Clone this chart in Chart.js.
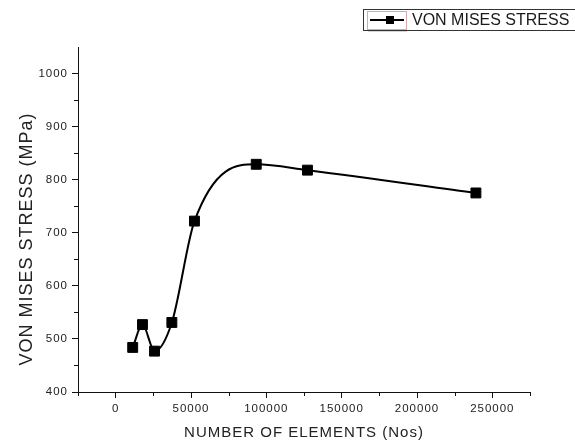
<!DOCTYPE html>
<html>
<head>
<meta charset="utf-8">
<script src="https://cdn.jsdelivr.net/npm/chart.js"></script>
<style>
  html, body { margin: 0; padding: 0; background: #fff; }
</style>
</head>
<body>
<canvas id="myChart" width="575" height="443"></canvas>
<script>
// values
const elements = [11300, 17800, 25800, 37300, 52300, 93300, 127300, 239100];
const stress = [484, 527, 477, 531, 722, 829, 818, 775];
const xTicks = [0, 50000, 100000, 150000, 200000, 250000];
const yTicks = [400, 500, 600, 700, 800, 900, 1000];
const xMinor = [-25000, 25000, 75000, 125000, 175000, 225000, 275000];
const yMinor = [450, 550, 650, 750, 850, 950];
const yTitle = 'VON MISES STRESS (MPa)';

Chart.defaults.font.family = '"Liberation Sans", Arial, sans-serif';

// wider letter spacing for axis text, like the scanned original
const spacing = {
    id: 'spacing',
    beforeDraw(chart) { chart.ctx.letterSpacing = '1px'; },
    beforeDatasetsDraw(chart) { chart.ctx.letterSpacing = '0px'; }
};

// y title sits a bit below the middle of the axis in the original
const sideTitle = {
    id: 'sideTitle',
    afterDraw(chart) {
        const ctx = chart.ctx;
        ctx.save();
        ctx.letterSpacing = '1px';
        ctx.fillStyle = '#222';
        ctx.font = '18px "Liberation Sans", Arial, sans-serif';
        ctx.translate(27, 239);
        ctx.rotate(-Math.PI / 2);
        ctx.textAlign = 'center';
        ctx.textBaseline = 'middle';
        ctx.fillText(yTitle, 0, 0);
        ctx.restore();
    }
};

// small outward ticks between the labelled ones
const minorTicks = {
    id: 'minorTicks',
    afterDraw(chart) {
        const { ctx, scales: { x, y } } = chart;
        ctx.save();
        ctx.strokeStyle = '#111';
        ctx.lineWidth = 1;
        ctx.beginPath();
        xMinor.forEach(v => {
            const px = Math.round(x.getPixelForValue(v)) + 0.5;
            ctx.moveTo(px, y.bottom);
            ctx.lineTo(px, y.bottom + 4);
        });
        yMinor.forEach(v => {
            const py = Math.round(y.getPixelForValue(v)) + 0.5;
            ctx.moveTo(x.left - 4, py);
            ctx.lineTo(x.left, py);
        });
        ctx.stroke();
        ctx.restore();
    }
};

// boxed legend in the top right corner
const boxLegend = {
    id: 'boxLegend',
    afterDraw(chart) {
        const ctx = chart.ctx;
        const ds = chart.data.datasets[0];
        ctx.save();
        ctx.letterSpacing = '0px';
        ctx.lineWidth = 1;
        ctx.strokeStyle = '#333';
        ctx.strokeRect(363.5, 9.5, 212, 21);
        ctx.strokeStyle = '#d9a9a9';
        ctx.strokeRect(367.5, 11.5, 39, 18);
        ctx.strokeStyle = '#a8e6ec';
        ctx.beginPath();
        ctx.moveTo(368, 31.5);
        ctx.lineTo(407, 31.5);
        ctx.stroke();
        ctx.strokeStyle = ds.borderColor;
        ctx.lineWidth = 2;
        ctx.beginPath();
        ctx.moveTo(370, 20);
        ctx.lineTo(404, 20);
        ctx.stroke();
        ctx.fillStyle = ds.backgroundColor;
        ctx.fillRect(386, 16, 8, 8);
        ctx.fillStyle = '#1a1a1a';
        ctx.font = '16px "Liberation Sans", Arial, sans-serif';
        ctx.textBaseline = 'middle';
        ctx.fillText(ds.label, 412, 20.5);
        ctx.restore();
    }
};

const ctx = document.getElementById('myChart').getContext('2d');
const myChart = new Chart(ctx, {
    type: 'line',
    data: {
        datasets: [{
            label: 'VON MISES STRESS',
            data: elements.map((e, i) => ({ x: e, y: stress[i] })),
            borderColor: '#000',
            backgroundColor: '#000',
            borderWidth: 2,
            cubicInterpolationMode: 'monotone',
            pointStyle: 'rect',
            pointRadius: 7,
            pointBorderColor: '#000',
            pointBorderWidth: 1,
            fill: false
        }]
    },
    options: {
        responsive: false,
        animation: false,
        layout: { padding: { top: 47, right: 45, left: 0, bottom: 0 } },
        plugins: {
            legend: { display: false },
            tooltip: { enabled: false }
        },
        scales: {
            x: {
                type: 'linear',
                min: -25000,
                max: 275000,
                afterBuildTicks: s => { s.ticks = xTicks.map(v => ({ value: v })); },
                afterFit: s => { s.height = 51; },
                grid: { drawOnChartArea: false, tickLength: 6, tickColor: '#111' },
                border: { color: '#111', width: 1 },
                ticks: {
                    color: '#222',
                    font: { size: 11.5 },
                    padding: 4,
                    maxRotation: 0,
                    autoSkip: false,
                    callback: v => String(v)
                },
                title: {
                    display: true,
                    text: 'NUMBER OF ELEMENTS (Nos)',
                    color: '#222',
                    font: { size: 15 },
                    padding: { top: 0, bottom: 1 }
                }
            },
            y: {
                min: 400,
                max: 1050,
                afterBuildTicks: s => { s.ticks = yTicks.map(v => ({ value: v })); },
                afterFit: s => { s.width = 78; },
                grid: { drawOnChartArea: false, tickLength: 6, tickColor: '#111' },
                border: { color: '#111', width: 1 },
                ticks: {
                    color: '#222',
                    font: { size: 11.5 },
                    padding: 4,
                    callback: v => String(v)
                }
            }
        }
    },
    plugins: [spacing, minorTicks, sideTitle, boxLegend]
});
</script>
</body>
</html>
